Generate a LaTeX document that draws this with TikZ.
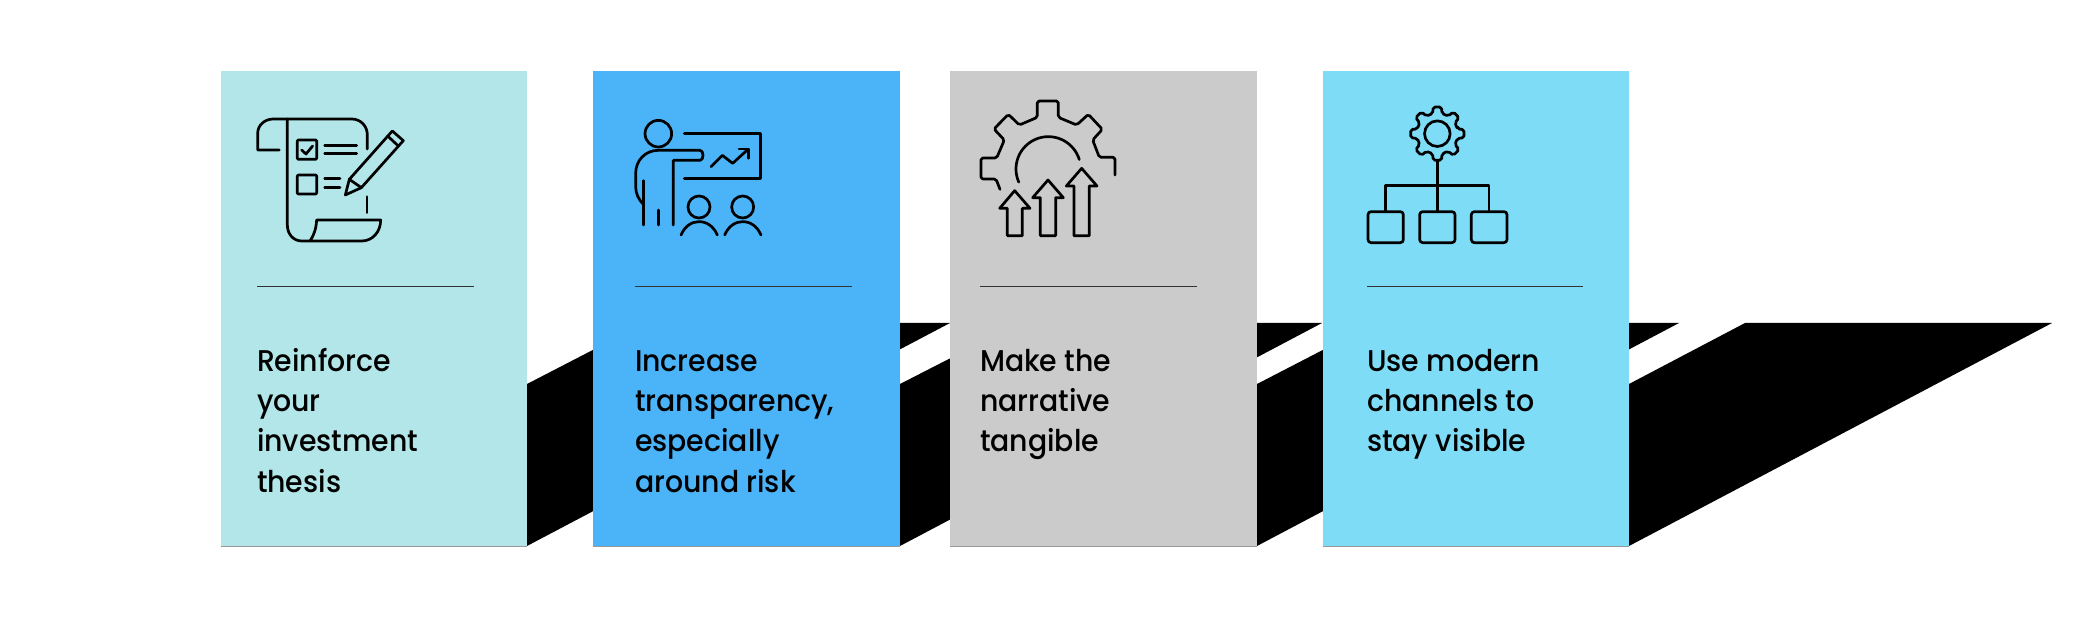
\documentclass[tikz,border=0pt]{standalone}
\usepackage{fontspec}
\setmainfont[FakeStretch=0.945,UprightFont={* Medium}]{Poppins}
\definecolor{cardA}{HTML}{B2E6E9}
\definecolor{cardB}{HTML}{4BB3F8}
\definecolor{cardC}{HTML}{CBCBCB}
\definecolor{cardD}{HTML}{7EDCF6}
\tikzset{
  card/.style={anchor=north west,minimum width=306.5pt,minimum height=475pt,inner sep=0pt,outer sep=0pt},
  cardtext/.style={anchor=north west,inner sep=0pt,outer sep=0pt,align=left,font=\fontsize{30}{40.4}\selectfont,text=black},
  sepline/.style={draw=black!80,line width=1.2pt},
  edgeline/.style={draw=black!40,line width=0.8pt},
  icon/.style={draw=black,line width=2.7pt,line cap=round,line join=round},
  band/.style={fill=black},
  zoomed/.style={x=0.33333pt,y=-0.33333pt}
}
\newcommand{\lineone}{\rule{0pt}{30pt}}
\begin{document}
\begin{tikzpicture}[x=1pt,y=-1pt]
\useasboundingbox (0,0) rectangle (2097,636);
\fill[white] (0,0) rectangle (2097,636);
% black slanted bands
\fill[band] (527,546) -- (950,323) -- (645,323) -- (527,384) -- cycle;
\fill[band] (900,546) -- (1322,323) -- (1019,323) -- (900,384) -- cycle;
\fill[band] (1257,546) -- (1679,323) -- (1375,323) -- (1257,384) -- cycle;
\fill[band] (1629,546) -- (2052,323) -- (1745,323) -- (1629,384) -- cycle;
% cards
\node[card,fill=cardA] (c1) at (220.5,71) {};
\node[card,fill=cardB] (c2) at (593,71) {};
\node[card,fill=cardC] (c3) at (950,71) {};
\node[card,fill=cardD] (c4) at (1322.5,71) {};
\draw[edgeline] (c1.south west) -- (c1.south east);
\draw[edgeline] (c2.south west) -- (c2.south east);
\draw[edgeline] (c3.south west) -- (c3.south east);
\draw[edgeline] (c4.south west) -- (c4.south east);
% rules
\draw[sepline] (257,286.5) -- (474,286.5);
\draw[sepline] (635,286.5) -- (852,286.5);
\draw[sepline] (980,286.5) -- (1197,286.5);
\draw[sepline] (1367,286.5) -- (1583,286.5);
% texts
\node[cardtext] (t1) at (257,341) {\lineone Reinforce\\your\\investment\\thesis};
\node[cardtext] (t2) at (635,341) {\lineone Increase\\transparency,\\especially\\around risk};
\node[cardtext] (t3) at (980,341) {\lineone Make the\\narrative\\tangible};
\node[cardtext] (t4) at (1367,341) {\lineone Use modern\\channels to\\stay visible};
% icon 1: scroll and pencil
\begin{scope}[shift={(220,70)},zoomed]
\draw[icon] (178,240) -- (113,240) -- (113,190) .. controls (113,165) and (135,147) .. (160,147) -- (395,147) .. controls (422,147) and (442,168) .. (442,195) -- (442,237);
\draw[icon] (202,147) -- (202,465) .. controls (202,492) and (220,513) .. (245,513) -- (425,513) .. controls (458,513) and (482,485) .. (482,450) -- (290,450) .. controls (288,478) and (282,495) .. (270,513);
\draw[icon,rounded corners=1pt] (232,210) rectangle (290,268);
\draw[icon] (245,240) -- (258,252) -- (278,228);
\draw[icon] (314,226) -- (410,226);
\draw[icon] (314,251) -- (410,251);
\draw[icon,rounded corners=1pt] (232,315) rectangle (290,372);
\draw[icon] (314,326) -- (360,326);
\draw[icon] (314,352) -- (360,352);
\draw[icon] (441,380) -- (441,428);
\draw[icon] (376,375) -- (388,328) -- (517,183) -- (550,212) -- (424,353) -- cycle;
\draw[icon] (388,328) -- (424,353);
\draw[icon] (503,198) -- (535,228);
\end{scope}
% icon 2: presenter
\begin{scope}[shift={(590,70)},zoomed]
\draw[icon] (205,191) circle[radius=13.3pt];
\draw[icon] (330,241) -- (205,241) .. controls (165,241) and (137,272) .. (137,310) -- (137,350) .. controls (137,372) and (147,390) .. (160,403);
\draw[icon] (330,241) .. controls (342,241) and (342,271) .. (330,271) -- (250,271) -- (250,465);
\draw[icon] (160,332) -- (160,465);
\draw[icon] (205,420) -- (205,465);
\draw[icon] (283,190) -- (512,190) -- (512,325) -- (283,325);
\draw[icon] (363,290) -- (397,256) -- (428,280) -- (475,237);
\draw[icon] (447,237) -- (475,237) -- (475,265);
\draw[icon] (327,411) circle[radius=11pt];
\draw[icon] (458,411) circle[radius=11pt];
\draw[icon] (273,495) .. controls (285,468) and (305,455) .. (327,455) .. controls (350,455) and (370,468) .. (382,495);
\draw[icon] (404,495) .. controls (416,468) and (436,455) .. (458,455) .. controls (481,455) and (501,468) .. (513,495);
\end{scope}
% icon 3: gear and arrows
\begin{scope}[shift={(950,70)},zoomed]
\draw[icon,rounded corners=1.8pt] (495,315) -- (495,262) -- (448,262) -- (428,210) -- (457,178) -- (415,133) -- (380,165) -- (325,142) -- (325,93) -- (262,93) -- (262,142) -- (208,165) -- (175,133) -- (132,177) -- (163,210) -- (140,264) -- (93,264) -- (93,327) -- (138,327) -- (150,358);
\draw[icon] plot[domain=17:204,samples=50,smooth] ({295+97*cos(\x)},{297-97*sin(\x)});
\draw[icon] (194,362) -- (240,415) -- (217,415) -- (217,497) -- (172,497) -- (172,415) -- (149,415) -- cycle;
\draw[icon] (294,330) -- (340,383) -- (317,383) -- (317,497) -- (271,497) -- (271,383) -- (248,383) -- cycle;
\draw[icon] (395,295) -- (441,348) -- (418,348) -- (418,497) -- (372,497) -- (372,348) -- (349,348) -- cycle;
\end{scope}
% icon 4: gear and hierarchy
\begin{scope}[shift={(1320,70)},zoomed]
\begin{scope}[shift={(352,191)}]
\draw[icon,rounded corners=2pt] (-13:62)
  \foreach \a in {0,45,...,315} { -- ({\a-13}:62) -- ({\a-9}:81) -- ({\a+9}:81) -- ({\a+13}:62) } -- cycle;
\draw[icon] (0,0) circle[radius=12.8pt];
\end{scope}
\draw[icon] (352,272) -- (352,425);
\draw[icon] (197,425) -- (197,347) -- (507,347) -- (507,425);
\draw[icon,rounded corners=3pt] (144,425) rectangle (250,518);
\draw[icon,rounded corners=3pt] (299,425) rectangle (405,518);
\draw[icon,rounded corners=3pt] (454,425) rectangle (561,518);
\end{scope}
\end{tikzpicture}
\end{document}
